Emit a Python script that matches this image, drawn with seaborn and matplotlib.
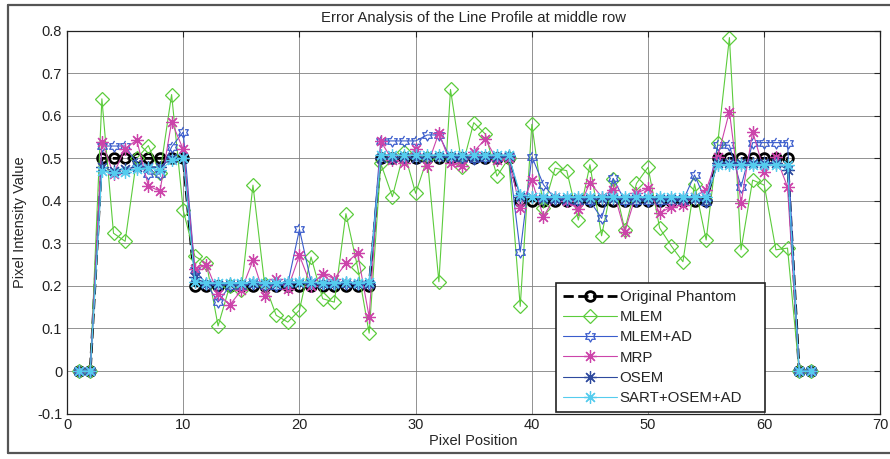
import numpy as np
import matplotlib
matplotlib.use("Agg")
import matplotlib.pyplot as plt
from matplotlib.lines import Line2D
import seaborn as sns

# pixel positions along the middle row
pixel_pos = list(range(1, 65))

original = [0, 0,
            0.5, 0.5, 0.5, 0.5, 0.5, 0.5, 0.5, 0.5,
            0.2, 0.2, 0.2, 0.2, 0.2, 0.2, 0.2, 0.2, 0.2, 0.2, 0.2, 0.2, 0.2, 0.2, 0.2, 0.2,
            0.5, 0.5, 0.5, 0.5, 0.5, 0.5, 0.5, 0.5, 0.5, 0.5, 0.5, 0.5,
            0.4, 0.4, 0.4, 0.4, 0.4, 0.4, 0.4, 0.4, 0.4, 0.4, 0.4, 0.4, 0.4, 0.4, 0.4, 0.4, 0.4,
            0.5, 0.5, 0.5, 0.5, 0.5, 0.5, 0.5,
            0, 0]

mlem = [0, 0, 0.64, 0.324, 0.305, 0.50, 0.53, 0.465, 0.65, 0.378,
        0.27, 0.253, 0.106, 0.20, 0.19, 0.437, 0.205, 0.131, 0.115, 0.143,
        0.268, 0.17, 0.162, 0.37, 0.245, 0.089, 0.488, 0.41, 0.516, 0.418,
        0.50, 0.21, 0.662, 0.48, 0.584, 0.557, 0.458, 0.50, 0.152, 0.58,
        0.383, 0.477, 0.471, 0.355, 0.485, 0.318, 0.452, 0.332, 0.441, 0.479,
        0.336, 0.294, 0.257, 0.44, 0.308, 0.537, 0.784, 0.285, 0.449, 0.437,
        0.285, 0.289, 0, 0]

mlem_ad = [0, 0, 0.529, 0.529, 0.529, 0.49, 0.463, 0.463, 0.527, 0.562,
           0.237, 0.205, 0.162, 0.2, 0.2, 0.205, 0.2, 0.2, 0.205, 0.333,
           0.21, 0.205, 0.205, 0.205, 0.205, 0.205, 0.541, 0.541, 0.541, 0.541,
           0.555, 0.555, 0.5, 0.5, 0.498, 0.5, 0.5, 0.505, 0.28, 0.504,
           0.438, 0.405, 0.40, 0.40, 0.40, 0.359, 0.453, 0.40, 0.40, 0.40,
           0.40, 0.40, 0.40, 0.461, 0.398, 0.531, 0.531, 0.433, 0.537, 0.537,
           0.537, 0.537, 0, 0]

mrp = [0, 0, 0.539, 0.463, 0.523, 0.543, 0.435, 0.423, 0.586, 0.521,
       0.24, 0.249, 0.182, 0.155, 0.19, 0.26, 0.176, 0.217, 0.194, 0.272,
       0.2, 0.229, 0.217, 0.253, 0.278, 0.127, 0.54, 0.496, 0.49, 0.523,
       0.482, 0.56, 0.488, 0.482, 0.516, 0.545, 0.496, 0.50, 0.383, 0.448,
       0.363, 0.41, 0.40, 0.38, 0.443, 0.41, 0.426, 0.328, 0.418, 0.43,
       0.371, 0.386, 0.39, 0.41, 0.426, 0.504, 0.61, 0.394, 0.563, 0.469,
       0.504, 0.433, 0, 0]

osem = [0, 0, 0.48, 0.47, 0.475, 0.48, 0.48, 0.48, 0.50, 0.50,
        0.22, 0.205, 0.203, 0.205, 0.204, 0.206, 0.205, 0.204, 0.206, 0.207,
        0.206, 0.205, 0.205, 0.206, 0.205, 0.205, 0.50, 0.502, 0.503, 0.502,
        0.503, 0.503, 0.504, 0.503, 0.502, 0.503, 0.503, 0.505, 0.41, 0.41,
        0.405, 0.405, 0.404, 0.405, 0.405, 0.404, 0.405, 0.405, 0.404, 0.405,
        0.405, 0.404, 0.405, 0.405, 0.402, 0.49, 0.49, 0.49, 0.49, 0.49,
        0.49, 0.473, 0, 0]

sart = [0, 0, 0.47, 0.465, 0.468, 0.475, 0.478, 0.472, 0.495, 0.50,
        0.21, 0.208, 0.207, 0.208, 0.208, 0.209, 0.208, 0.208, 0.209, 0.21,
        0.209, 0.208, 0.208, 0.209, 0.208, 0.21, 0.508, 0.508, 0.507, 0.508,
        0.508, 0.508, 0.508, 0.507, 0.508, 0.508, 0.508, 0.508, 0.415, 0.41,
        0.41, 0.41, 0.41, 0.41, 0.41, 0.41, 0.41, 0.41, 0.41, 0.41,
        0.41, 0.41, 0.41, 0.41, 0.41, 0.485, 0.485, 0.485, 0.485, 0.485,
        0.485, 0.485, 0, 0]

# hexagram marker (star of David outline)
ang = np.deg2rad(90 + 30 * np.arange(12))
rad = np.where(np.arange(12) % 2 == 0, 1.0, 1 / np.sqrt(3))
hexagram = list(zip(rad * np.cos(ang), rad * np.sin(ang)))

sns.set_style("white")
plt.rcParams['font.family'] = ['Liberation Sans', 'DejaVu Sans']

fig = plt.figure(figsize=(8.9, 4.59), dpi=100)
ax = fig.add_axes([0.0753, 0.099, 0.914, 0.834])

# outer frame like the exported figure window
fw, fh = 890, 459
fig.add_artist(Line2D([8 / fw, 1], [1 - 5 / fh, 1 - 5 / fh], transform=fig.transFigure,
                      color="#555555", linewidth=1.6))
fig.add_artist(Line2D([8 / fw, 8 / fw], [1 - 5 / fh, 1 - 453 / fh], transform=fig.transFigure,
                      color="#555555", linewidth=1.6))
fig.add_artist(Line2D([8 / fw, 1], [1 - 453 / fh, 1 - 453 / fh], transform=fig.transFigure,
                      color="#555555", linewidth=1.6))

series = [
    ("Original Phantom", original, "black", "o", "--", 2.0, 7, 2.0),
    ("MLEM", mlem, "#5ccc3c", "D", "-", 0.8, 7, 0.9),
    ("MLEM+AD", mlem_ad, "#3a5ccc", hexagram, "-", 0.8, 8, 0.9),
    ("MRP", mrp, "#cc44aa", (8, 2, 0), "-", 0.8, 9, 0.9),
    ("OSEM", osem, "#2e4a9e", (8, 2, 0), "-", 0.8, 9, 0.9),
    ("SART+OSEM+AD", sart, "#55ccee", (8, 2, 0), "-", 0.8, 9, 0.9),
]

for name, vals, col, mk, ls, lw, ms, mew in series:
    sns.lineplot(x=pixel_pos, y=vals, ax=ax, color=col, marker=mk,
                 linestyle=ls, linewidth=lw, markersize=ms,
                 markerfacecolor="none", markeredgecolor=col,
                 markeredgewidth=mew, label=name)

ax.set_xlim(0, 70)
ax.set_ylim(-0.1, 0.8)
ax.set_xticks(np.arange(0, 71, 10))
ax.set_yticks(np.round(np.arange(-0.1, 0.81, 0.1), 1))
ax.set_yticklabels(["-0.1", "0", "0.1", "0.2", "0.3", "0.4", "0.5", "0.6", "0.7", "0.8"])
ax.grid(True, color="#808080", linewidth=0.6)
ax.tick_params(direction="in", labelsize=10.5, length=4, top=True, right=True,
               labelcolor="#222222")
for s in ax.spines.values():
    s.set_color("#222222")
    s.set_linewidth(0.9)

ax.set_title("Error Analysis of the Line Profile at middle row", fontsize=10.7, pad=6)
ax.set_xlabel("Pixel Position", fontsize=10.5, labelpad=1)
ax.set_ylabel("Pixel Intensity Value", fontsize=10.5, labelpad=7)

leg = ax.legend(loc="lower left", bbox_to_anchor=(0.601, 0.004, 0.257, 0.3),
                mode="expand", borderaxespad=0, fontsize=10.8,
                frameon=True, fancybox=False, framealpha=1, edgecolor="#222222",
                borderpad=0.45, labelspacing=0.42, handlelength=3.6, handletextpad=0.2)
leg.get_frame().set_linewidth(1.2)

fig.savefig("out.png", dpi=100)
